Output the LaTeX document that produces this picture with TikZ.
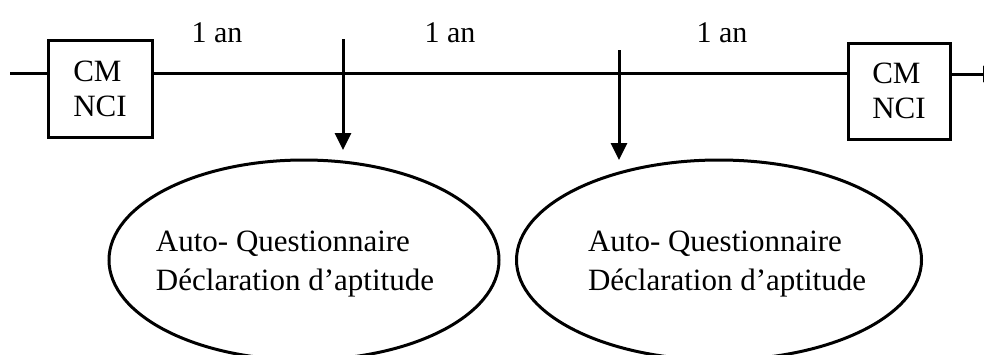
\documentclass[tikz,border=0pt]{standalone}
\usepackage{fontspec}
\setmainfont{Liberation Serif}
\usetikzlibrary{shapes.geometric,arrows.meta}
\tikzset{
  ln/.style={line width=3pt},
  tipd/.style={ln,-{Triangle[length=17pt,width=16pt]}},
  boxn/.style={draw,ln,minimum width=104pt,minimum height=97pt,inner sep=0pt,align=left,font=\fontsize{31}{35}\selectfont},
  elln/.style={draw,ln,ellipse,inner sep=0pt},
  txt/.style={inner sep=0pt,align=left,font=\fontsize{31}{39}\selectfont},
  lab/.style={inner sep=0pt,anchor=base,font=\fontsize{30}{36}\selectfont}
}
\begin{document}
\begin{tikzpicture}[x=1pt,y=-1pt]
\useasboundingbox (0,0) rectangle (984,354);
\clip (0,0) rectangle (984,354);
% boxes
\node[boxn] (b1) at (100,88.5) {CM\\NCI};
\node[boxn,minimum width=102pt,minimum height=96pt] (b2) at (899,91) {CM\\NCI};
% timeline
\coordinate (s) at (10,73);
\coordinate (e) at (1000,74);
\draw[ln] (s) -- (b1.west |- s);
\draw[ln] (b1.east |- s) -- (b2.west |- s);
\draw[tipd] (b2.east |- e) -- (e);
% labels
\node[lab] (l1) at (217,42) {1 an};
\node[lab] (l2) at (450,42) {1 an};
\node[lab] (l3) at (722,42) {1 an};
% ellipses
\node[elln,minimum width=390pt,minimum height=200pt] (e1) at (304,260) {};
\node[elln,minimum width=405pt,minimum height=200pt] (e2) at (719,260) {};
\node[txt] (t1) at (295,264) {Auto- Questionnaire\\Déclaration d’aptitude};
\node[txt] (t2) at (727,264) {Auto- Questionnaire\\Déclaration d’aptitude};
% arrows
\coordinate (a1s) at (343,39);
\coordinate (a1e) at (343,150);
\coordinate (a2s) at (619,50);
\coordinate (a2e) at (619,160);
\draw[tipd] (a1s) -- (a1e);
\draw[tipd] (a2s) -- (a2e);
\end{tikzpicture}
\end{document}
